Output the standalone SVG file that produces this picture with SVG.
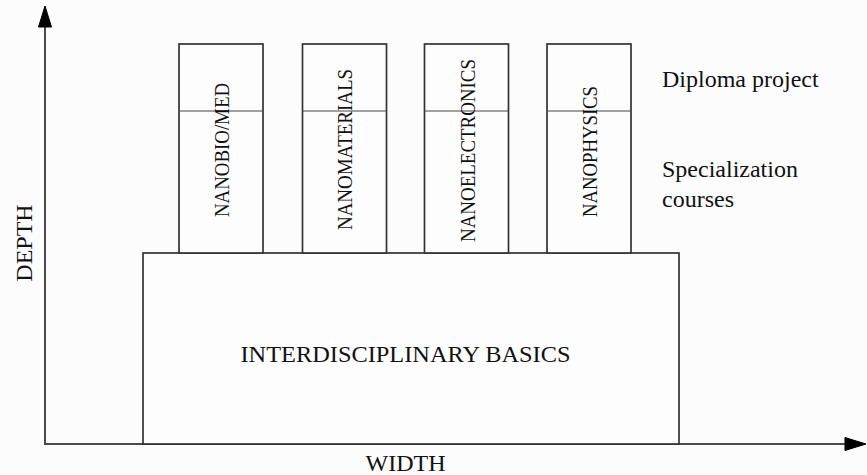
<svg xmlns="http://www.w3.org/2000/svg" width="867" height="475" viewBox="0 0 867 475">
<style>
.bg{fill:#fcfcfc}
.box{fill:#fdfdfd;stroke:#333;stroke-width:1.7}
.div{stroke:#444;stroke-width:1}
.axis{stroke:#4a4a4a;stroke-width:2;fill:none}
.head{fill:#000;stroke:#000;stroke-width:1}
.t{font-family:"Liberation Serif","Times New Roman",serif;fill:#111}
.big{font-size:24px}
.v{font-size:21px}
</style>
<rect class="bg" x="0" y="0" width="867" height="475"/>
<g id="connectors">
<line class="axis" x1="45" y1="445" x2="45" y2="26"/>
<polygon class="head" points="45,6 51.5,27 38.5,27"/>
<line class="axis" x1="44" y1="444" x2="846" y2="444"/>
<polygon class="head" points="866,444 845,437.5 845,450.5"/>
</g>
<g id="basics">
<rect class="box" x="143" y="253" width="536" height="191"/>
<text class="t big" x="405.5" y="362" text-anchor="middle" textLength="330" lengthAdjust="spacingAndGlyphs">INTERDISCIPLINARY BASICS</text>
</g>
<g id="nanobiomed">
<rect class="box" x="179" y="44" width="84" height="209"/>
<line class="div" x1="179" y1="111" x2="263" y2="111"/>
<text class="t v" transform="translate(228.5,150) rotate(-90)" text-anchor="middle" textLength="134" lengthAdjust="spacingAndGlyphs">NANOBIO/MED</text>
</g>
<g id="nanomaterials">
<rect class="box" x="302.5" y="44" width="84" height="209"/>
<line class="div" x1="302.5" y1="111" x2="386.5" y2="111"/>
<text class="t v" transform="translate(352,149.5) rotate(-90)" text-anchor="middle" textLength="161" lengthAdjust="spacingAndGlyphs">NANOMATERIALS</text>
</g>
<g id="nanoelectronics">
<rect class="box" x="424.5" y="44" width="84" height="209"/>
<line class="div" x1="424.5" y1="111" x2="508.5" y2="111"/>
<text class="t v" transform="translate(474.5,150.5) rotate(-90)" text-anchor="middle" textLength="183" lengthAdjust="spacingAndGlyphs">NANOELECTRONICS</text>
</g>
<g id="nanophysics">
<rect class="box" x="547" y="44" width="84" height="209"/>
<line class="div" x1="547" y1="111" x2="631" y2="111"/>
<text class="t v" transform="translate(596.5,151.5) rotate(-90)" text-anchor="middle" textLength="131" lengthAdjust="spacingAndGlyphs">NANOPHYSICS</text>
</g>
<g id="labels">
<text class="t big" x="662" y="87">Diploma project</text>
<text class="t big" x="662" y="177">Specialization</text>
<text class="t big" x="662" y="207">courses</text>
<text class="t big" x="405.5" y="471" text-anchor="middle">WIDTH</text>
<text class="t big" transform="translate(32,243) rotate(-90)" text-anchor="middle">DEPTH</text>
</g>
</svg>
